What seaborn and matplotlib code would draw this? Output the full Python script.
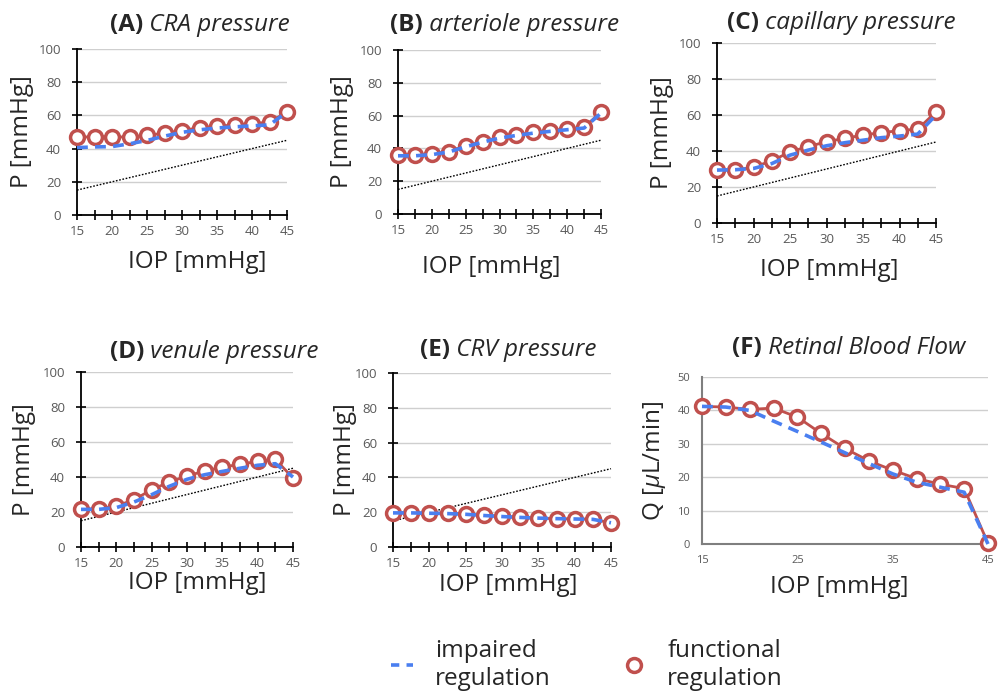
import numpy as np
import pandas as pd
import matplotlib
matplotlib.use("Agg")
import matplotlib.pyplot as plt
import seaborn as sns
from matplotlib.lines import Line2D

# ---------------- data ----------------
iop = [15, 17.5, 20, 22.5, 25, 27.5, 30, 32.5, 35, 37.5, 40, 42.5, 45]
iop_ref = [15, 45]          # dotted identity line P = IOP

cra_functional = [47, 47, 47, 47, 48, 49.3, 50.9, 52.6, 53.4, 54.3, 55, 56, 62]
cra_impaired   = [40.6, 41, 41.2, 42.9, 44.9, 47.5, 49.8, 51.3, 52.4, 53.1, 53.7, 54.3, 62]

art_functional = [35.7, 35.7, 36.5, 38.1, 41.6, 44.2, 46.7, 48.3, 49.7, 50.9, 51.9, 52.9, 62.1]
art_impaired   = [35.5, 35.5, 36.2, 37.8, 41.0, 43.8, 46.3, 47.9, 49.3, 50.4, 51.4, 52.4, 61.5]

cap_functional = [29.7, 29.2, 31.2, 34.4, 39.6, 42.4, 45.2, 47.0, 48.9, 50.2, 51.3, 52.2, 61.7]
cap_impaired   = [29.4, 29.6, 30.3, 33.0, 37.7, 40.5, 42.9, 44.6, 46.0, 47.4, 48.3, 49.4, 60.0]

ven_functional = [21.5, 21.9, 23.4, 27.0, 32.8, 37.1, 40.6, 43.4, 45.7, 47.2, 49.0, 50.1, 39.4]
ven_impaired   = [21.5, 21.5, 22.5, 25.7, 29.9, 34.7, 38.7, 41.3, 43.2, 45.0, 46.7, 47.6, 40.0]

crv_functional = [19.6, 19.6, 19.5, 19.5, 19.0, 18.2, 17.6, 17.0, 16.5, 16.3, 16.1, 16.0, 13.8]
crv_impaired   = [19.6, 19.6, 19.4, 19.2, 18.8, 18.1, 17.5, 17.0, 16.6, 16.3, 16.1, 15.9, 13.9]

flow_functional = [41.2, 41.0, 40.3, 40.7, 38.0, 33.1, 28.6, 24.9, 22.1, 19.6, 17.9, 16.6, 0.2]
flow_impaired   = [41.2, 41.0, 40.0, 36.8, 33.7, 30.5, 27.3, 24.1, 21.0, 18.5, 17.0, 15.5, 0.0]

panel_letters = ["(A)", "(B)", "(C)", "(D)", "(E)", "(F)"]
panel_names = ["CRA pressure", "arteriole pressure", "capillary pressure",
               "venule pressure", "CRV pressure", "Retinal Blood Flow"]
functional_series = [cra_functional, art_functional, cap_functional,
                     ven_functional, crv_functional, flow_functional]
impaired_series = [cra_impaired, art_impaired, cap_impaired,
                   ven_impaired, crv_impaired, flow_impaired]
y_labels = ["P [mmHg]"] * 5 + ["Q [$\\mu$L/min]"]
x_label = "IOP [mmHg]"
legend_labels = ["impaired\nregulation", "functional\nregulation"]

# ---------------- style ----------------
sns.set_style("white")
FONT = "Open Sans"
plt.rcParams["font.family"] = [FONT, "DejaVu Sans"]
plt.rcParams["mathtext.fontset"] = "custom"
plt.rcParams["mathtext.rm"] = FONT
plt.rcParams["mathtext.it"] = FONT + ":italic"

RED = "#C0504D"
BLUE = "#4A7FF0"
GRID = "#CFCFCF"
TICKC = "#595959"
LAB = 17.5
TIT = 17.5
TICK = 9.5

W, H = 998, 698
fig = plt.figure(figsize=(W / 100, H / 100), dpi=100)

# axes boxes in pixels: left, right, top, bottom
boxes = [(77, 287, 49, 215), (398, 601, 50, 214), (717, 936, 43, 223),
         (81, 293, 372, 547), (393, 611, 373, 547), (702, 988, 377, 544)]
ylabel_px = [22, 342, 662, 24, 345, 655]
xlabel_pos = [(197, 262), (491, 267), (829, 270), (197, 583), (508, 585), (839, 587)]
title_pos = [(110, 25), (390, 25), (727, 23), (110, 352), (420, 350), (732, 348)]

for i in range(6):
    l, r, t, b = boxes[i]
    ax = fig.add_axes([l / W, 1 - b / H, (r - l) / W, (b - t) / H])
    df_f = pd.DataFrame({"IOP": iop, "value": functional_series[i]})
    df_i = pd.DataFrame({"IOP": iop, "value": impaired_series[i]})

    if i < 5:
        sns.lineplot(x=iop_ref, y=iop_ref, ax=ax, color="black", lw=1.0,
                     linestyle=(0, (1.2, 1.2)), clip_on=False, zorder=2)
    sns.lineplot(data=df_f, x="IOP", y="value", ax=ax, color=RED, lw=2.0,
                 marker="o", markersize=10, markerfacecolor="white",
                 markeredgecolor=RED, markeredgewidth=2.5, clip_on=False, zorder=3)
    sns.lineplot(data=df_i, x="IOP", y="value", ax=ax, color=BLUE, lw=2.6,
                 linestyle=(0, (3, 2)), clip_on=False, zorder=4)

    ax.set_xlim(15, 45)
    if i < 5:
        ax.set_ylim(0, 100)
        ax.set_yticks(np.arange(0, 101, 20))
        ax.set_xticks(np.arange(15, 46, 5))
        ax.set_xticks(np.arange(17.5, 45, 5), minor=True)
        for s in ["left", "bottom"]:
            ax.spines[s].set_color("black")
            ax.spines[s].set_linewidth(1.3)
        ax.tick_params(axis="both", which="both", direction="inout", length=7,
                       width=1.2, color="black", labelcolor=TICKC, labelsize=TICK,
                       bottom=True, left=True)
        ax.tick_params(axis="y", pad=8)
        ax.tick_params(axis="x", pad=4)
    else:
        ax.set_ylim(0, 50)
        ax.set_yticks(np.arange(0, 51, 10))
        ax.set_xticks(np.arange(15, 46, 10))
        for s in ["left", "bottom"]:
            ax.spines[s].set_color("#7F7F7F")
            ax.spines[s].set_linewidth(1.5)
        ax.tick_params(axis="both", which="both", length=0,
                       labelcolor=TICKC, labelsize=TICK - 1.5)
        ax.tick_params(axis="y", pad=8.5)
        ax.tick_params(axis="x", pad=8)
    for s in ["top", "right"]:
        ax.spines[s].set_visible(False)
    ax.yaxis.grid(True, color=GRID, lw=1.0)
    ax.xaxis.grid(False)
    ax.set_axisbelow(True)

    ax.set_ylabel(y_labels[i], fontsize=LAB)
    ax.yaxis.set_label_coords((ylabel_px[i] - l) / (r - l), 0.5)
    ax.yaxis.label.set_va("center")
    ax.set_xlabel(x_label, fontsize=LAB)
    xl, yl = xlabel_pos[i]
    ax.xaxis.set_label_coords((xl - l) / (r - l), (b - yl) / (b - t))
    ax.xaxis.label.set_va("center")

    tx, ty = title_pos[i]
    t1 = fig.text(tx / W, 1 - ty / H, panel_letters[i], fontsize=TIT,
                  fontweight="bold", ha="left", va="center")
    ax.annotate(" " + panel_names[i], xy=(1, 0), xycoords=t1, fontsize=TIT,
                fontstyle="italic", ha="left", va="bottom")

handles = [Line2D([0], [0], color=BLUE, lw=2.6, linestyle=(0, (2.3, 2.0))),
           Line2D([0], [0], color=RED, lw=0, marker="o", markersize=10,
                  markerfacecolor="white", markeredgecolor=RED, markeredgewidth=2.5)]
fig.legend(handles, legend_labels, loc="center", bbox_to_anchor=(587 / W, 1 - 665 / H),
           ncol=2, frameon=False, fontsize=LAB, handlelength=0.9, handletextpad=0.9,
           columnspacing=3.0, labelspacing=0.2)

fig.savefig("out.png", dpi=100, facecolor="white")
